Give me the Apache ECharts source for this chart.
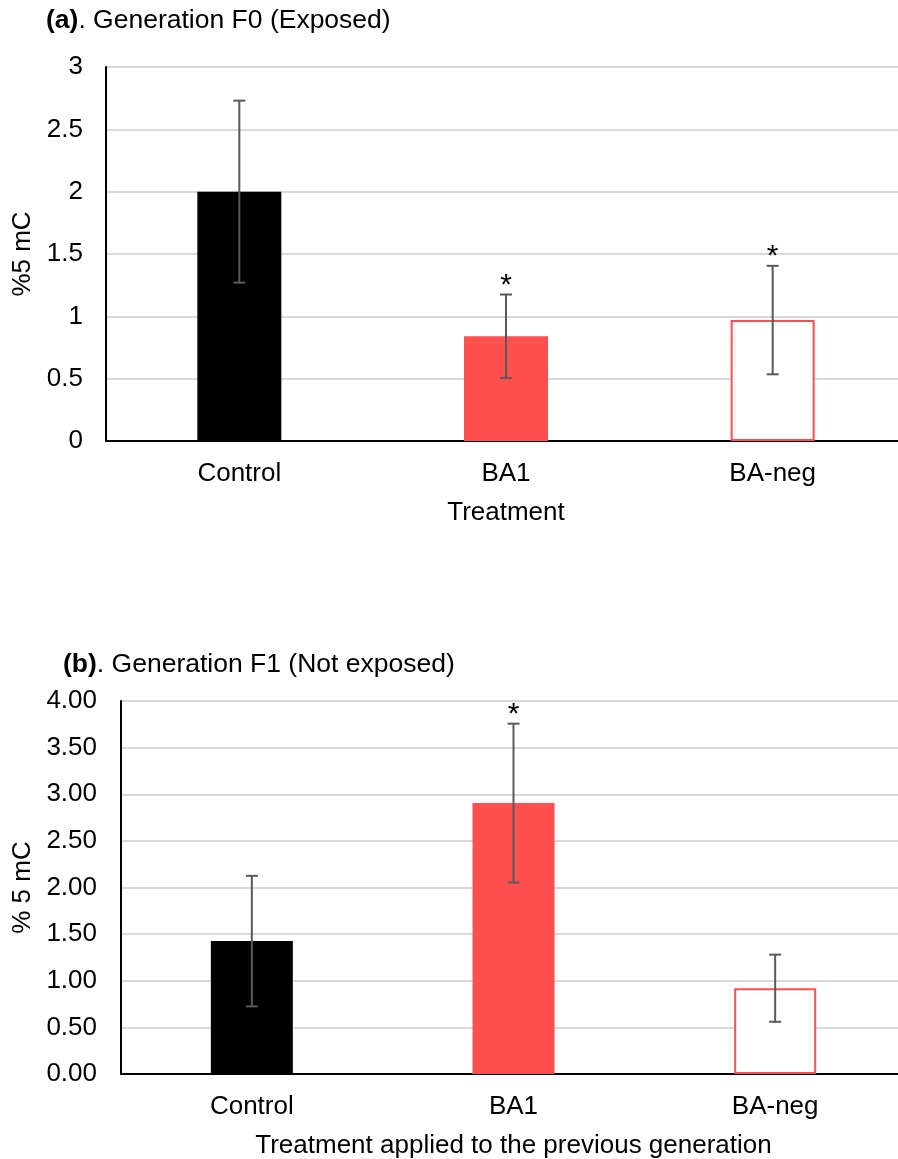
<!DOCTYPE html>
<html>
<head>
<meta charset="utf-8">
<script src="https://cdn.jsdelivr.net/npm/echarts@6/dist/echarts.min.js"></script>
<style>
html,body{margin:0;padding:0;background:#fff;}
#c{width:898px;height:1159px;}
</style>
</head>
<body>
<div id="c"></div>
<script>
var categories = ['Control', 'BA1', 'BA-neg'];
var f0Means = [2.0, 0.84, 0.97];
var f0Err = [0.73, 0.335, 0.435];
var f0Sig = ['', '*', '*'];
var f1Means = [1.425, 2.905, 0.92];
var f1Err = [0.70, 0.852, 0.36];
var f1Sig = ['', '*', ''];

var BLACK = '#000000', RED = '#FF5050', ERR = '#595959';
var FONT = 'Liberation Sans, Arial, sans-serif';
var FS = 26;
var fillColors = [BLACK, RED, '#ffffff'];

function barData(means) {
  return means.map(function (v, i) {
    var st = { color: fillColors[i] };
    if (i === 2) { st.borderColor = RED; st.borderWidth = 2; }
    return { value: v, itemStyle: st };
  });
}
function errData(means, errs, sig) {
  return means.map(function (v, i) { return [i, v - errs[i], v + errs[i], sig[i]]; });
}
function errRender(params, api) {
  var lo = api.coord([api.value(0), api.value(1)]);
  var hi = api.coord([api.value(0), api.value(2)]);
  var x = lo[0], w = 6;
  var style = { stroke: ERR, lineWidth: 2 };
  var children = [
    { type: 'line', shape: { x1: x, y1: hi[1], x2: x, y2: lo[1] }, style: style },
    { type: 'line', shape: { x1: x - w, y1: hi[1], x2: x + w, y2: hi[1] }, style: style },
    { type: 'line', shape: { x1: x - w, y1: lo[1], x2: x + w, y2: lo[1] }, style: style }
  ];
  var s = api.value(3);
  if (s) {
    children.push({ type: 'text', style: { text: s, x: x, y: hi[1] - 9, textAlign: 'center', textVerticalAlign: 'middle', fontSize: 30, fontFamily: FONT, fill: '#000' } });
  }
  return { type: 'group', children: children };
}

var axisLabelStyle = { color: '#000', fontSize: FS, fontFamily: FONT };

function xAxisCfg(gi, name, gap) {
  return {
    type: 'category', gridIndex: gi, data: categories,
    axisLine: { lineStyle: { color: '#000', width: 2 } },
    axisTick: { show: false },
    axisLabel: Object.assign({ margin: 20 }, axisLabelStyle),
    name: name, nameLocation: 'middle', nameGap: gap,
    nameTextStyle: axisLabelStyle
  };
}
function titleStyle() {
  return { fontSize: 26.5, fontWeight: 'normal', color: '#000', fontFamily: FONT,
    rich: { b: { fontSize: 26.5, fontWeight: 'bold', color: '#000', fontFamily: FONT } } };
}

var chart = echarts.init(document.getElementById('c'), null, { renderer: 'canvas' });
chart.setOption({
  backgroundColor: '#fff',
  animation: false,
  title: [
    { text: '{b|(a)}. Generation F0 (Exposed)', left: 46, top: 7, padding: 0, textStyle: titleStyle() },
    { text: '{b|(b)}. Generation F1 (Not exposed)', left: 63, top: 651, padding: 0, textStyle: titleStyle() }
  ],
  grid: [
    { left: 106, width: 800, top: 67, height: 374, outerBoundsMode: 'none', containLabel: false },
    { left: 121, width: 785, top: 701, height: 373, outerBoundsMode: 'none', containLabel: false }
  ],
  xAxis: [
    xAxisCfg(0, 'Treatment', 59),
    xAxisCfg(1, 'Treatment applied to the previous generation', 59)
  ],
  yAxis: [
    { type: 'value', gridIndex: 0, min: 0, max: 3, interval: 0.5,
      axisLine: { show: true, lineStyle: { color: '#000', width: 2 } },
      axisTick: { show: false },
      splitLine: { lineStyle: { color: '#d9d9d9', width: 2 } },
      axisLabel: Object.assign({ margin: 23 }, axisLabelStyle),
      name: '%5 mC', nameLocation: 'middle', nameGap: 67, nameTextStyle: axisLabelStyle },
    { type: 'value', gridIndex: 1, min: 0, max: 4, interval: 0.5,
      axisLine: { show: true, lineStyle: { color: '#000', width: 2 } },
      axisTick: { show: false },
      splitLine: { lineStyle: { color: '#d9d9d9', width: 2 } },
      axisLabel: Object.assign({ margin: 24, formatter: function (v) { return v.toFixed(2); } }, axisLabelStyle),
      name: '% 5 mC', nameLocation: 'middle', nameGap: 82, nameTextStyle: axisLabelStyle }
  ],
  series: [
    { type: 'bar', xAxisIndex: 0, yAxisIndex: 0, barWidth: 84, data: barData(f0Means), z: 2 },
    { type: 'custom', xAxisIndex: 0, yAxisIndex: 0, renderItem: errRender, data: errData(f0Means, f0Err, f0Sig), z: 5 },
    { type: 'bar', xAxisIndex: 1, yAxisIndex: 1, barWidth: 82, data: barData(f1Means), z: 2 },
    { type: 'custom', xAxisIndex: 1, yAxisIndex: 1, renderItem: errRender, data: errData(f1Means, f1Err, f1Sig), z: 5 }
  ]
});
</script>
</body>
</html>
